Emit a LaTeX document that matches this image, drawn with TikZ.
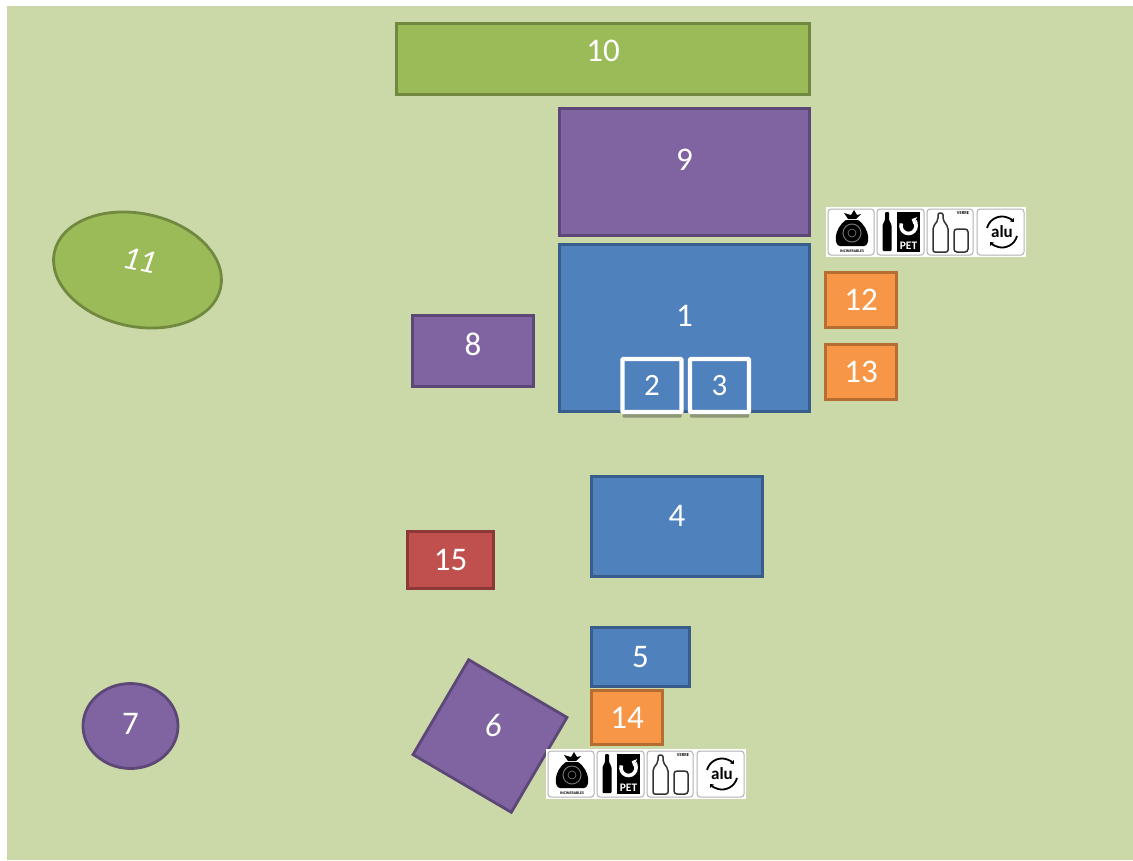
\documentclass[tikz,border=0pt]{standalone}
\usepackage{fontspec}
\setmainfont{Carlito}
\usetikzlibrary{arrows.meta,shadows,shapes.geometric}

\begin{document}
\begin{tikzpicture}[
    x=1pt, y=-1pt,
    zone/.style={draw, line width=2.8pt, text=white, font=\fontsize{33}{35}\selectfont, inner sep=0pt},
    bluezone/.style={zone, fill=blue1, draw=blue2},
    purplezone/.style={zone, fill=purple1, draw=purple2},
    greenzone/.style={zone, fill=green1, draw=green2},
    orangezone/.style={zone, fill=orange1, draw=orange2},
    redzone/.style={zone, fill=red1, draw=red2},
    whitezone/.style={zone, fill=blue1, draw=white, line width=4.4pt, rounded corners=1pt, font=\fontsize{31}{33}\selectfont,
      drop shadow={shadow xshift=0pt, shadow yshift=-5.5pt, fill=black, opacity=0.3}},
    iconbox/.style={draw=black!30, line width=1pt, fill=white, rounded corners=3pt},
    iconline/.style={draw=black!80, line width=1.5pt, fill=white},
    recyclesigns/.pic={
      \fill[white] (0,0) rectangle (200,50);
      \draw[iconbox] (2,2) rectangle (48,48);
      \draw[iconbox] (51,2) rectangle (98,48);
      \draw[iconbox] (101,2) rectangle (147,48);
      \draw[iconbox] (151,2) rectangle (198,48);
      \fill[black] (20,13) .. controls (7,22) and (8,39) .. (14,39) -- (38,39) .. controls (44,39) and (45,22) .. (32,13) -- cycle;
      \fill[black] (22,12) -- (18,6) -- (25,8) -- (28,3) -- (31,8) -- (35,7) -- (30,12) -- cycle;
      \draw[black!55, line width=1pt] (26,26) circle (9);
      \draw[black!55, line width=0.7pt] (26,26) circle (4);
      \node[inner sep=0pt, font=\fontsize{4}{4}\selectfont\bfseries] at (26,44) {INCINERABLES};
      \fill[black, rounded corners=1pt] (56.5,44) -- (56.5,18) -- (59,13) -- (59,5) -- (63,5) -- (63,13) -- (65.5,18) -- (65.5,44) -- cycle;
      \fill[black] (71,5) rectangle (94,45);
      \draw[white, line width=3.6pt, -{Triangle[length=4pt,width=8pt]}] (82.5,19) ++(200:7.5) arc[start angle=200, end angle=-65, radius=7.5];
      \node[inner sep=0pt, text=white, font=\fontsize{11.5}{12}\selectfont\bfseries] at (82.5,38.5) {PET};
      \draw[iconline, rounded corners=2pt] (107,45) -- (107,20) -- (112,13) -- (112,6) -- (117,6) -- (117,13) -- (122,20) -- (122,45) -- cycle;
      \draw[iconline, rounded corners=3pt] (128,22) rectangle (142,45);
      \node[inner sep=0pt, font=\fontsize{4.5}{5}\selectfont\bfseries] at (137,6) {VERRE};
      \draw[black, line width=1.8pt, -{Triangle[length=3pt,width=5pt]}] (176,25) ++(195:15.5) arc[start angle=195, end angle=320, radius=15.5];
      \draw[black, line width=1.8pt, -{Triangle[length=3pt,width=5pt]}] (176,25) ++(15:15.5) arc[start angle=15, end angle=140, radius=15.5];
      \node[inner sep=0pt, font=\fontsize{17}{17}\selectfont\bfseries] at (176,24.5) {alu};
    }
  ]
    \definecolor{lawn}{HTML}{CBD9A9}
    \definecolor{blue1}{HTML}{4F81BD}
    \definecolor{blue2}{HTML}{385D8A}
    \definecolor{purple1}{HTML}{8064A2}
    \definecolor{purple2}{HTML}{5C4776}
    \definecolor{green1}{HTML}{9BBB59}
    \definecolor{green2}{HTML}{71893F}
    \definecolor{orange1}{HTML}{F79646}
    \definecolor{orange2}{HTML}{B66D31}
    \definecolor{red1}{HTML}{C0504D}
    \definecolor{red2}{HTML}{8C3836}
    \useasboundingbox (0,0) rectangle (1133,860);
    \fill[lawn] (7,6) rectangle (1133,860);
    \node[greenzone, minimum width=413pt, minimum height=71pt, text depth=16pt] (area10) at (603,59) {10};
    \node[purplezone, minimum width=250pt, minimum height=127pt, text depth=24pt] (area9) at (684.5,172) {9};
    \node[bluezone, minimum width=250pt, minimum height=167pt, text depth=24pt] (area1) at (684.5,328) {1};
    \node[whitezone, minimum width=59pt, minimum height=53pt] (area2) at (652,385.5) {2};
    \node[whitezone, minimum width=59pt, minimum height=53pt] (area3) at (719.5,385.5) {3};
    \node[bluezone, minimum width=171pt, minimum height=100pt, text depth=22pt] (area4) at (677,526.5) {4};
    \node[bluezone, minimum width=98pt, minimum height=59pt] (area5) at (640.5,657) {5};
    \node[purplezone, minimum width=114pt, minimum height=110pt, rotate=-30.4] (area6) at (490,736) {};
    \node[text=white, inner sep=0pt, font=\fontsize{33}{35}\selectfont\itshape] (label6) at (493,725) {6};
    \node[purplezone, ellipse, minimum width=95pt, minimum height=85pt, text depth=4pt] (area7) at (130.5,726) {7};
    \node[purplezone, minimum width=121pt, minimum height=71pt, text depth=14pt] (area8) at (473,351) {8};
    \node[greenzone, ellipse, minimum width=170pt, minimum height=113pt, rotate=-12, text depth=20pt] (area11) at (137.5,270) {\itshape 11};
    \node[orangezone, minimum width=71pt, minimum height=55pt] (area12) at (861,300) {12};
    \node[orangezone, minimum width=71pt, minimum height=55pt] (area13) at (861,372) {13};
    \node[orangezone, minimum width=71pt, minimum height=54pt] (area14) at (627,717.5) {14};
    \node[redzone, minimum width=86pt, minimum height=57pt] (area15) at (450.5,560) {15};
    \pic at (826,207) {recyclesigns};
    \pic at (546,749) {recyclesigns};
  \end{tikzpicture}
\end{document}
